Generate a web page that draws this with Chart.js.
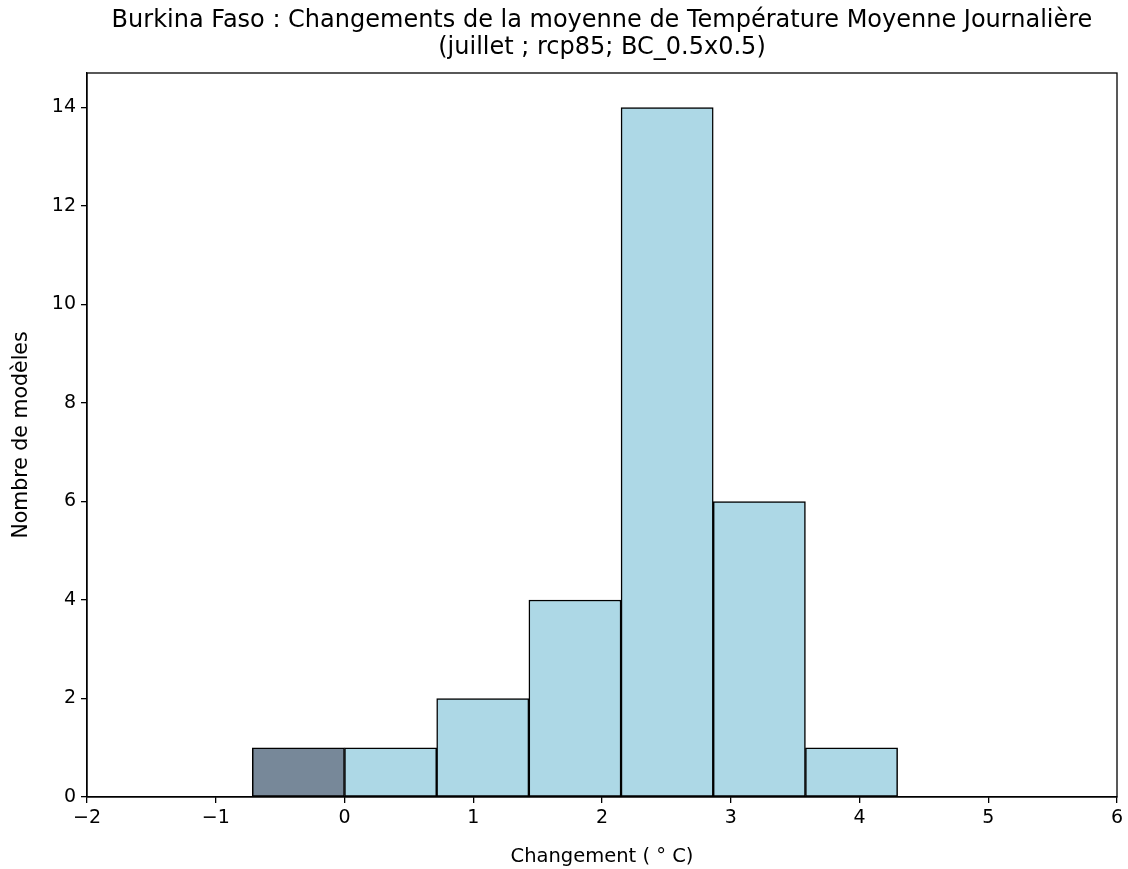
<!DOCTYPE html>
<html>
<head>
<meta charset="utf-8">
<script src="https://cdn.jsdelivr.net/npm/chart.js@4/dist/chart.umd.min.js"></script>
<style>
  html, body { margin: 0; padding: 0; background: #fff; }
  #wrap { width: 1128px; height: 869px; }
</style>
</head>
<body>
<div id="wrap"><canvas id="histChart" width="1128" height="869"></canvas></div>
<script>
// histogram data
const binEdges = [-0.716, 0, 0.716, 1.432, 2.148, 2.864, 3.58, 4.296];
const counts = [1, 1, 2, 4, 14, 6, 1];
const barColors = ["#778899", "#add8e6", "#add8e6", "#add8e6", "#add8e6", "#add8e6", "#add8e6"];
const xTicks = [-2, -1, 0, 1, 2, 3, 4, 5, 6];
const yTicks = [0, 2, 4, 6, 8, 10, 12, 14];

const titleLines = [
  "Burkina Faso : Changements de la moyenne de Température Moyenne Journalière",
  "(juillet ; rcp85; BC_0.5x0.5)"
];

const points = counts.map((n, i) => {
  return { x: (binEdges[i] + binEdges[i + 1]) / 2, y: n };
});

const font = "'DejaVu Sans', sans-serif";

// box around the plot + title centred over the axes (like matplotlib)
const frameBox = {
  id: "frameBox",
  afterDraw(chart) {
    const a = chart.chartArea;
    const ctx = chart.ctx;
    ctx.save();
    ctx.strokeStyle = "#000";
    ctx.lineWidth = 1.3;
    ctx.strokeRect(a.left, a.top, a.right - a.left, a.bottom - a.top);

    ctx.fillStyle = "#000";
    ctx.font = "24px " + font;
    ctx.textAlign = "center";
    ctx.textBaseline = "middle";
    const cx = (a.left + a.right) / 2;
    titleLines.forEach((line, i) => {
      ctx.fillText(line, cx, 21 + i * 27);
    });
    ctx.restore();
  }
};

const ctx = document.getElementById("histChart").getContext("2d");

var chart = new Chart(ctx, {
  type: "bar",
  data: {
    datasets: [
      {
        data: points,
        backgroundColor: barColors,
        borderColor: "#000",
        borderWidth: 1.5,
        borderSkipped: false,
        categoryPercentage: 1,
        barPercentage: 1,
      },
    ],
  },
  options: {
    responsive: false,
    animation: false,
    layout: { padding: { left: 0, right: 11, top: 73, bottom: 0 } },
    plugins: {
      legend: { display: false },
      tooltip: { enabled: false },
      title: { display: false },
    },
    scales: {
      x: {
        type: "linear",
        min: -2,
        max: 6,
        offset: false,
        grid: { offset: false, drawOnChartArea: false, drawTicks: true, tickLength: 6, color: "#000", lineWidth: 1.3 },
        border: { display: true, color: "#000", width: 1.3 },
        ticks: {
          stepSize: 1,
          includeBounds: false,
          padding: 4,
          color: "#000",
          font: { family: font, size: 19 },
          callback: (v) => xTicks.includes(v) ? String(v).replace("-", "\u2212") : "",
          maxRotation: 0,
        },
        title: {
          display: true,
          text: "Changement ( \u00b0 C)",
          color: "#000",
          font: { family: font, size: 19.5 },
          padding: { top: 6, bottom: 0 },
        },
        afterFit: (scale) => { scale.height = 72; },
      },
      y: {
        min: 0,
        max: 14.7,
        grid: { drawOnChartArea: false, drawTicks: true, tickLength: 6, color: "#000", lineWidth: 1.3 },
        border: { display: true, color: "#000", width: 1.3 },
        ticks: {
          stepSize: 2,
          includeBounds: false,
          padding: 5,
          color: "#000",
          font: { family: font, size: 19 },
          callback: (v) => yTicks.includes(v) ? String(v) : "",
        },
        title: {
          display: true,
          text: "Nombre de modèles",
          color: "#000",
          font: { family: font, size: 20.5 },
          padding: { top: 9, bottom: 8 },
        },
        afterFit: (scale) => { scale.width = 87; },
      },
    },
  },
  plugins: [frameBox],
});
</script>
</body>
</html>
